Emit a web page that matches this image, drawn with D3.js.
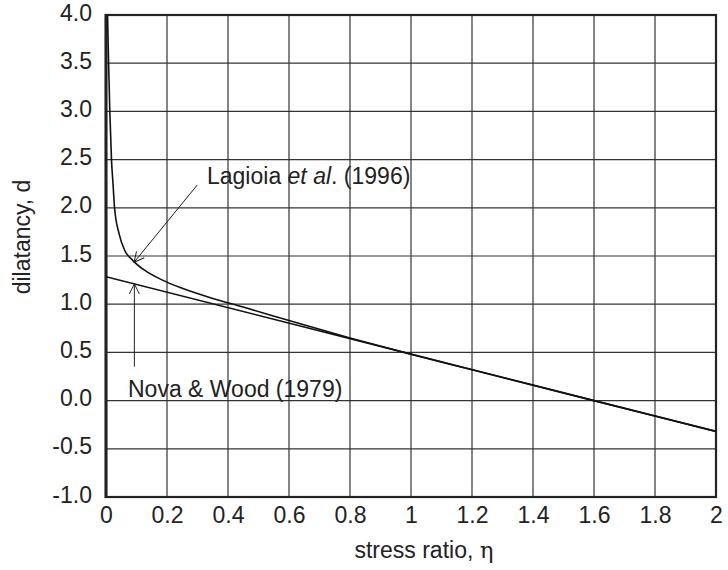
<!DOCTYPE html>
<meta charset="utf-8">
<script src="https://d3js.org/d3.v7.min.js"></script>
<style>
body { margin: 0; background: #fff; }
text { font-family: "Liberation Sans", Arial, sans-serif; fill: #222; }
</style>
<body></body>
<script>

// data
var xTicks = [0, 0.2, 0.4, 0.6, 0.8, 1, 1.2, 1.4, 1.6, 1.8, 2];
var yTicks = [-1.0, -0.5, 0.0, 0.5, 1.0, 1.5, 2.0, 2.5, 3.0, 3.5, 4.0];

// Nova & Wood (1979)
var novaEta = [0, 1.0, 1.6, 2.0];
var novaD   = [1.285, 0.482, 0.0, -0.32];

// Lagioia et al. (1996)
var lagEta = [0.005, 0.0085, 0.0125, 0.018, 0.023, 0.028, 0.043, 0.061, 0.086, 0.125, 0.185, 0.25, 0.35, 0.45, 0.6, 0.8, 1.0, 1.2, 1.6, 2.0];
var lagD   = [4.0, 3.5, 3.0, 2.5, 2.25, 2.0, 1.73, 1.56, 1.46, 1.355, 1.25, 1.165, 1.06, 0.97, 0.83, 0.65, 0.48, 0.32, 0.0, -0.32];

// annotations: [eta, d] pairs
var lagArrow  = [[0.299, 2.236], [0.092, 1.435]];
var novaArrow = [[0.093, 0.352], [0.093, 1.21]];

var width = 728, height = 570;
var margin = {top: 15, right: 12, bottom: 73, left: 106};

var svg = d3.select("body").append("svg")
    .attr("width", width)
    .attr("height", height);

var x = d3.scaleLinear().domain([0, 2]).range([margin.left, width - margin.right]);
var y = d3.scaleLinear().domain([-1, 4]).range([height - margin.bottom, margin.top]);

var defs = svg.append("defs");
defs.append("marker")
    .attr("id", "head")
    .attr("viewBox", "0 0 12 12")
    .attr("refX", 11).attr("refY", 6)
    .attr("markerWidth", 12).attr("markerHeight", 12)
    .attr("markerUnits", "userSpaceOnUse")
    .attr("orient", "auto")
  .append("path")
    .attr("d", "M1,1 L11,6 L1,11")
    .attr("fill", "none")
    .attr("stroke", "#222")
    .attr("stroke-width", 1);

defs.append("clipPath").attr("id", "plot")
  .append("rect")
    .attr("x", x(0)).attr("y", y(4))
    .attr("width", x(2) - x(0)).attr("height", y(-1) - y(4));

// grid
svg.append("g").selectAll("line").data(xTicks).enter().append("line")
    .attr("x1", d => x(d)).attr("x2", d => x(d))
    .attr("y1", y(-1)).attr("y2", y(4))
    .attr("stroke", "#333").attr("stroke-width", 1.2);

svg.append("g").selectAll("line").data(yTicks).enter().append("line")
    .attr("x1", x(0)).attr("x2", x(2))
    .attr("y1", d => y(d)).attr("y2", d => y(d))
    .attr("stroke", "#333").attr("stroke-width", 1.2);

// frame
svg.append("rect")
    .attr("x", x(0)).attr("y", y(4))
    .attr("width", x(2) - x(0)).attr("height", y(-1) - y(4))
    .attr("fill", "none")
    .attr("stroke", "#222")
    .attr("stroke-width", 2.2);
svg.append("line")
    .attr("x1", x(0)).attr("x2", x(0))
    .attr("y1", y(4) - 1).attr("y2", y(-1) + 1)
    .attr("stroke", "#222").attr("stroke-width", 3);

// axes labels
var xAxis = d3.axisBottom(x).tickValues(xTicks).tickSize(0).tickPadding(9)
    .tickFormat(d => String(+d.toFixed(1)));
var yAxis = d3.axisLeft(y).tickValues(yTicks).tickSize(0).tickPadding(14)
    .tickFormat(d => d.toFixed(1));

var gx = svg.append("g").attr("transform", "translate(0," + y(-1) + ")").call(xAxis);
var gy = svg.append("g").attr("transform", "translate(" + x(0) + ",0)").call(yAxis);
[gx, gy].forEach(function(g) {
  g.select(".domain").remove();
  g.selectAll("text")
    .attr("font-family", '"Liberation Sans", Arial, sans-serif')
    .attr("font-size", 23)
    .attr("fill", "#222");
});
gy.selectAll("text").attr("dy", "0.22em");
gx.selectAll("text").attr("dy", "0.75em");

svg.append("text")
    .attr("x", 424)
    .attr("y", 558)
    .attr("text-anchor", "middle")
    .attr("font-size", 23)
    .html('stress ratio, <tspan font-family="\'DejaVu Serif\', serif">η</tspan>');

svg.append("text")
    .attr("transform", "translate(30,237) rotate(-90)")
    .attr("text-anchor", "middle")
    .attr("font-size", 23)
    .text("dilatancy, d");

// curves
var line = d3.line()
    .x(d => x(d[0]))
    .y(d => y(d[1]));

var curves = svg.append("g").attr("clip-path", "url(#plot)");

curves.append("path")
    .datum(novaEta.map((e, i) => [e, novaD[i]]))
    .attr("d", line.curve(d3.curveLinear))
    .attr("fill", "none").attr("stroke", "#111").attr("stroke-width", 1.6);

curves.append("path")
    .datum(lagEta.map((e, i) => [e, lagD[i]]))
    .attr("d", line.curve(d3.curveMonotoneX))
    .attr("fill", "none").attr("stroke", "#111").attr("stroke-width", 1.6);

// arrows
[lagArrow, novaArrow].forEach(function(a) {
  svg.append("line")
    .attr("x1", x(a[0][0])).attr("y1", y(a[0][1]))
    .attr("x2", x(a[1][0])).attr("y2", y(a[1][1]))
    .attr("stroke", "#222").attr("stroke-width", 1)
    .attr("marker-end", "url(#head)");
});

// labels
svg.append("text")
    .attr("x", 207).attr("y", 184)
    .attr("font-size", 23)
    .html('Lagioia <tspan font-style="italic">et al</tspan>. (1996)');

svg.append("text")
    .attr("x", 128).attr("y", 397)
    .attr("font-size", 23)
    .text("Nova & Wood (1979)");

</script>
